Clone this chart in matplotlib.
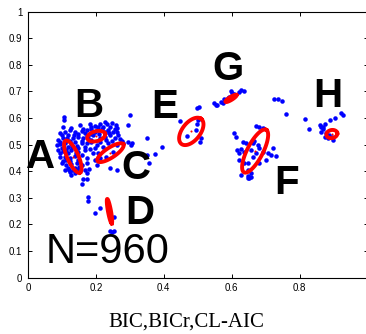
import numpy as np
import matplotlib.pyplot as plt

# blue samples (x, y)
pts_abc = [
    (0.107, 0.605), (0.107, 0.593), (0.301, 0.612), (0.296, 0.574),
    (0.104, 0.568), (0.128, 0.562), (0.153, 0.574), (0.182, 0.577), (0.197, 0.571),
    (0.212, 0.578), (0.232, 0.577), (0.247, 0.580), (0.258, 0.574), (0.222, 0.568),
    (0.242, 0.568), (0.261, 0.564),
    (0.094, 0.543), (0.108, 0.549), (0.123, 0.555), (0.138, 0.549), (0.158, 0.551),
    (0.173, 0.555), (0.187, 0.559), (0.202, 0.555), (0.217, 0.559), (0.237, 0.555),
    (0.251, 0.549), (0.261, 0.549), (0.148, 0.539), (0.118, 0.536), (0.099, 0.536),
    (0.089, 0.518), (0.104, 0.524), (0.116, 0.526), (0.133, 0.524), (0.148, 0.530),
    (0.163, 0.526), (0.178, 0.524), (0.192, 0.536), (0.227, 0.530), (0.242, 0.536),
    (0.256, 0.524), (0.276, 0.514), (0.296, 0.509), (0.306, 0.505), (0.123, 0.514),
    (0.158, 0.514),
    (0.084, 0.499), (0.094, 0.501), (0.108, 0.505), (0.128, 0.501), (0.143, 0.496),
    (0.158, 0.505), (0.173, 0.505), (0.187, 0.509), (0.202, 0.499), (0.212, 0.511),
    (0.237, 0.505), (0.261, 0.499), (0.281, 0.505), (0.118, 0.493), (0.148, 0.486),
    (0.099, 0.489),
    (0.089, 0.480), (0.104, 0.476), (0.128, 0.480), (0.148, 0.474), (0.168, 0.480),
    (0.182, 0.484), (0.197, 0.486), (0.207, 0.467), (0.251, 0.474), (0.094, 0.467),
    (0.118, 0.467),
    (0.094, 0.455), (0.108, 0.455), (0.123, 0.451), (0.138, 0.459), (0.158, 0.461),
    (0.173, 0.449), (0.197, 0.442), (0.212, 0.449), (0.148, 0.442), (0.104, 0.439),
    (0.099, 0.430), (0.113, 0.424), (0.128, 0.426), (0.143, 0.430), (0.158, 0.424),
    (0.173, 0.430), (0.242, 0.411), (0.261, 0.405), (0.118, 0.414), (0.138, 0.414),
    (0.108, 0.405), (0.123, 0.396), (0.138, 0.392), (0.153, 0.401), (0.168, 0.405),
    (0.128, 0.386), (0.181, 0.408), (0.175, 0.395), (0.203, 0.424),
    (0.163, 0.370), (0.173, 0.370), (0.158, 0.351),
    (0.178, 0.305), (0.178, 0.290), (0.196, 0.244), (0.213, 0.263), (0.252, 0.228),
    (0.243, 0.176), (0.248, 0.172), (0.252, 0.175),
    (0.350, 0.526), (0.302, 0.499), (0.395, 0.493), (0.374, 0.465), (0.351, 0.461),
    (0.356, 0.430),
    # densest part of the A/B/C group
    (0.168, 0.545), (0.183, 0.541), (0.196, 0.547), (0.210, 0.541), (0.226, 0.546),
    (0.240, 0.543), (0.175, 0.533), (0.212, 0.525), (0.230, 0.517), (0.246, 0.512),
    (0.265, 0.536), (0.270, 0.523), (0.186, 0.517), (0.168, 0.493), (0.135, 0.538),
    (0.112, 0.515), (0.130, 0.490), (0.113, 0.480), (0.140, 0.470), (0.125, 0.440),
    (0.133, 0.403), (0.145, 0.405), (0.120, 0.405), (0.150, 0.415), (0.111, 0.443),
    (0.095, 0.510), (0.138, 0.510), (0.186, 0.566), (0.205, 0.566), (0.228, 0.587),
    (0.163, 0.560), (0.255, 0.558), (0.222, 0.490), (0.190, 0.470), (0.230, 0.455),
]
pts_e = [
    (0.448, 0.589), (0.467, 0.532), (0.494, 0.555), (0.499, 0.578), (0.501, 0.593),
    (0.509, 0.524), (0.507, 0.511), (0.504, 0.643), (0.499, 0.637),
]
pts_g = [
    (0.548, 0.655), (0.553, 0.651), (0.558, 0.649), (0.568, 0.662), (0.578, 0.671),
    (0.593, 0.681), (0.607, 0.689), (0.622, 0.699), (0.637, 0.703), (0.627, 0.705),
    (0.583, 0.668), (0.573, 0.655), (0.602, 0.693), (0.598, 0.703), (0.588, 0.676),
]
pts_f = [
    (0.672, 0.570), (0.681, 0.568), (0.691, 0.562), (0.607, 0.545), (0.612, 0.530),
    (0.632, 0.511), (0.642, 0.508), (0.617, 0.480), (0.627, 0.483), (0.622, 0.470),
    (0.637, 0.474), (0.662, 0.505), (0.677, 0.499), (0.681, 0.486), (0.672, 0.468),
    (0.691, 0.474), (0.706, 0.468), (0.721, 0.486), (0.716, 0.461), (0.731, 0.457),
    (0.622, 0.442), (0.637, 0.430), (0.647, 0.430), (0.701, 0.442), (0.681, 0.430),
    (0.647, 0.405), (0.657, 0.392), (0.652, 0.380), (0.647, 0.374), (0.627, 0.386),
    (0.667, 0.515), (0.657, 0.480), (0.662, 0.455), (0.652, 0.376), (0.657, 0.378),
    (0.648, 0.382),
]
pts_h = [
    (0.726, 0.670), (0.736, 0.670), (0.748, 0.665), (0.760, 0.614), (0.815, 0.597),
    (0.827, 0.558), (0.859, 0.574), (0.864, 0.568), (0.874, 0.577), (0.869, 0.558),
    (0.864, 0.549), (0.876, 0.530), (0.884, 0.524), (0.891, 0.593), (0.903, 0.599),
    (0.923, 0.618), (0.928, 0.612), (0.888, 0.537), (0.898, 0.518), (0.879, 0.545),
    (0.869, 0.565), (0.894, 0.530),
]

# fitted components: centre, half major axis, half minor axis
labels = ["A", "B", "C", "D", "E", "F", "G", "H"]
centres = [(0.132, 0.455), (0.201, 0.532), (0.243, 0.470), (0.240, 0.250),
           (0.481, 0.550), (0.669, 0.476), (0.598, 0.674), (0.895, 0.540)]
major = [(0.021, -0.060), (0.026, 0.009), (0.038, 0.0316), (0.0066, -0.046),
         (0.0293, 0.047), (0.0325, 0.080), (0.0163, 0.0128), (0.016, 0.0038)]
minor = [(0.015, 0.0085), (0.0038, -0.018), (0.008, -0.0158), (0.0044, 0.001),
         (0.0207, -0.021), (0.0204, -0.0135), (0.0024, -0.0049), (0.002, -0.015)]
label_pos = [(0.038, 0.454), (0.179, 0.645), (0.318, 0.414), (0.328, 0.245),
             (0.404, 0.640), (0.763, 0.356), (0.590, 0.785), (0.882, 0.683)]

fig = plt.figure(figsize=(3.66, 3.34), dpi=100)
ax = fig.add_axes([0.0765, 0.1686, 0.9276, 0.7964])

for grp in [pts_abc, pts_e, pts_g, pts_f, pts_h]:
    g = np.array(grp)
    ax.plot(g[:, 0], g[:, 1], '.', color='b', markersize=6.5, markeredgewidth=0)

t = np.linspace(0, 2 * np.pi, 100)
for c, a, b in zip(centres, major, minor):
    ex = c[0] + a[0] * np.cos(t) + b[0] * np.sin(t)
    ey = c[1] + a[1] * np.cos(t) + b[1] * np.sin(t)
    ax.plot(ex, ey, color='r', linewidth=2.8)
    ax.plot(c[0], c[1], '.', color='r', markersize=3, markeredgewidth=0)

for lab, (lx, ly) in zip(labels, label_pos):
    ax.text(lx, ly, lab, fontsize=29, fontweight='bold', family='Liberation Sans',
            ha='center', va='center')
ax.text(0.234, 0.098, "N=960", fontsize=30, family='Liberation Sans',
        ha='center', va='center')

ax.set_xlim(0, 1)
ax.set_ylim(0, 1)
ax.set_xticks([0, 0.2, 0.4, 0.6, 0.8, 1])
ax.set_xticklabels(["0", "0.2", "0.4", "0.6", "0.8", "1"])
ax.set_yticks(np.arange(0, 1.01, 0.1))
ax.set_yticklabels(["0", "0.1", "0.2", "0.3", "0.4", "0.5", "0.6", "0.7", "0.8", "0.9", "1"])
ax.tick_params(direction='in', length=3, width=0.7, top=True, right=True,
               labelsize=7, pad=4)
for lbl in ax.get_xticklabels() + ax.get_yticklabels():
    lbl.set_family('Liberation Sans')
for s in ax.spines.values():
    s.set_linewidth(0.8)

fig.text(0.508, 0.036, "BIC,BICr,CL-AIC", fontsize=15, family='Liberation Serif',
         ha='center', va='center')

plt.savefig('out.png', dpi=100)
